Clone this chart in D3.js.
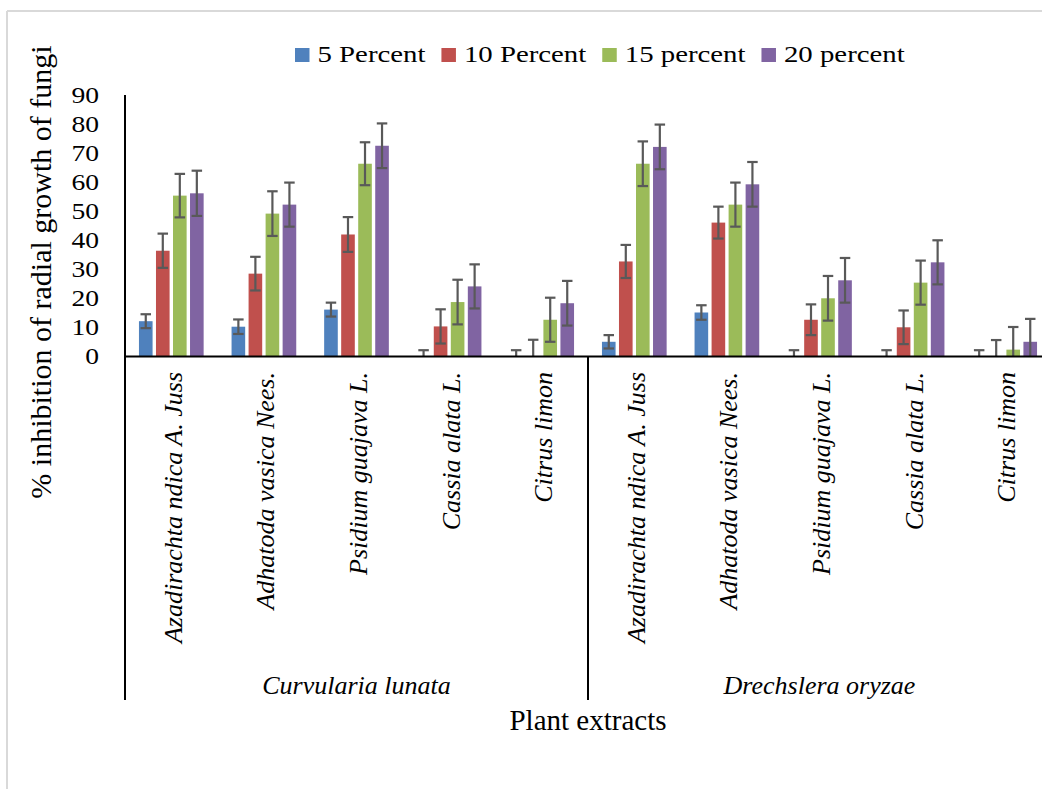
<!DOCTYPE html>
<html>
<head>
<meta charset="utf-8">
<script src="https://cdn.jsdelivr.net/npm/d3@7"></script>
<style>
  body { margin: 0; background: #fff; }
  svg { display: block; }
  svg text { font-family: "Liberation Serif", "Times New Roman", serif; }
</style>
</head>
<body>
<svg id="chart" width="1042" height="789"></svg>
<script>
// Pathogen groups and plant extracts along the x axis
const fungi = ["Curvularia lunata", "Drechslera oryzae"];
const plants = ["Azadirachta ndica A. Juss", "Adhatoda vasica Nees.", "Psidium guajava L.", "Cassia alata L.", "Citrus limon"];

// Extract concentrations (series)
const seriesNames = ["5 Percent", "10 Percent", "15 percent", "20 percent"];

// % inhibition, 10 values per series: C. lunata (5 plants) then D. oryzae (5 plants)
const pct5  = [12.0, 10.1, 16.0, 0,    0,    4.9,  15.0, 0,    0,    0];
const pct10 = [36.3, 28.4, 41.9, 10.2, 0,    32.6, 46.0, 12.5, 9.9,  0];
const pct15 = [55.3, 49.1, 66.3, 18.6, 12.5, 66.3, 52.2, 19.9, 25.3, 2.2];
const pct20 = [56.1, 52.2, 72.5, 24.0, 18.2, 72.1, 59.2, 26.1, 32.3, 4.9];

// Error bar half-widths (same order)
const err5  = [2.4, 2.5, 2.4, 2.0, 2.0, 2.3, 2.5, 2.0, 2.0, 2.0];
const err10 = [5.9, 5.8, 6.0, 5.9, 5.6, 5.7, 5.5, 5.3, 5.8, 5.5];
const err15 = [7.5, 7.7, 7.4, 7.7, 7.6, 7.7, 7.6, 7.7, 7.6, 7.8];
const err20 = [7.8, 7.6, 7.7, 7.6, 7.7, 7.7, 7.7, 7.7, 7.6, 7.9];

const yTicks = [0, 10, 20, 30, 40, 50, 60, 70, 80, 90];

const values = [pct5, pct10, pct15, pct20];
const errors = [err5, err10, err15, err20];
const colors = ["#4F81BD", "#C0504D", "#9BBB59", "#8064A2"];
const serif = "'Liberation Serif', 'Times New Roman', serif";

const svg = d3.select("#chart");

// Plot geometry
const plotLeft = 125, plotRight = 1051, plotBase = 356, plotTop = 95, lineBottom = 700;

const y = d3.scaleLinear().domain([0, 90]).range([plotBase, plotTop]);
const keys = fungi.flatMap(f => plants.map(p => f + "|" + p));
const x0 = d3.scaleBand().domain(keys).range([plotLeft, plotRight]).padding(0);
const x1 = d3.scaleBand().domain(seriesNames).range([0, x0.bandwidth()])
  .paddingInner(0.2).paddingOuter(0.82);

// Outer frame (light grey)
svg.append("line").attr("x1", 7).attr("x2", 1042).attr("y1", 11).attr("y2", 11)
  .attr("stroke", "#d9d9d9").attr("stroke-width", 2);
svg.append("line").attr("x1", 7).attr("x2", 7).attr("y1", 11).attr("y2", 789)
  .attr("stroke", "#d9d9d9").attr("stroke-width", 2);

// Legend
const legend = svg.append("g");
let lx = 295;
seriesNames.forEach((name, i) => {
  legend.append("rect").attr("x", lx).attr("y", 48).attr("width", 14.5).attr("height", 14)
    .attr("fill", colors[i]);
  const t = legend.append("text")
    .attr("transform", `translate(${lx + 22.5},62.3) scale(1.2,1)`)
    .style("font-family", serif)
    .attr("font-size", 24).attr("fill", "#000").text(name);
  const w = t.node().getComputedTextLength() * 1.2;
  lx += 22.5 + w + 16;
});

// Rows of bar data
const rows = keys.map((k, i) => ({
  key: k,
  bars: seriesNames.map((s, j) => ({ s, j, v: values[j][i], e: errors[j][i] }))
}));

// Bars
const groups = svg.append("g").selectAll("g").data(rows).join("g")
  .attr("transform", d => `translate(${x0(d.key)},0)`);

groups.selectAll("rect").data(d => d.bars).join("rect")
  .attr("x", d => x1(d.s))
  .attr("y", d => y(d.v))
  .attr("width", x1.bandwidth())
  .attr("height", d => plotBase - y(d.v))
  .attr("fill", d => colors[d.j]);

// Error bars, clipped at the zero line
svg.append("clipPath").attr("id", "plotClip")
  .append("rect").attr("x", plotLeft).attr("y", 0).attr("width", plotRight - plotLeft).attr("height", plotBase);

const errG = svg.append("g").attr("clip-path", "url(#plotClip)");
const capW = 10.5;
rows.forEach(r => {
  r.bars.forEach(b => {
    const cx = x0(r.key) + x1(b.s) + x1.bandwidth() / 2;
    const yHi = y(b.v + b.e), yLo = y(b.v - b.e);
    const g = errG.append("g").attr("stroke", "#595959").attr("stroke-width", 2.2);
    g.append("line").attr("x1", cx).attr("x2", cx).attr("y1", yHi).attr("y2", yLo);
    g.append("line").attr("x1", cx - capW / 2).attr("x2", cx + capW / 2).attr("y1", yHi).attr("y2", yHi);
    g.append("line").attr("x1", cx - capW / 2).attr("x2", cx + capW / 2).attr("y1", yLo).attr("y2", yLo);
  });
});

// Y axis
const yAxis = svg.append("g").attr("transform", `translate(${plotLeft},0)`)
  .call(d3.axisLeft(y).tickValues(yTicks).tickSize(0).tickPadding(26));
yAxis.attr("font-family", null);
yAxis.select(".domain").remove();
yAxis.selectAll("text")
  .style("font-family", serif)
  .attr("font-size", 24).attr("fill", "#000")
  .attr("x", -26 / 1.15).attr("transform", "scale(1.15,1)");

// X axis line
const xAxis = svg.append("g").attr("transform", `translate(0,${plotBase})`)
  .call(d3.axisBottom(x0).tickSize(0).tickFormat(""));
xAxis.select(".domain").attr("stroke", "#000").attr("stroke-width", 2);
xAxis.selectAll(".tick").remove();

// Vertical axis line and group separators
svg.append("line").attr("x1", plotLeft).attr("x2", plotLeft).attr("y1", plotTop).attr("y2", lineBottom)
  .attr("stroke", "#000").attr("stroke-width", 2);
fungi.forEach(f => {
  const xs = x0(f + "|" + plants[plants.length - 1]) + x0.bandwidth();
  svg.append("line").attr("x1", xs).attr("x2", xs).attr("y1", plotBase).attr("y2", lineBottom)
    .attr("stroke", "#000").attr("stroke-width", 2);
});

// Plant extract labels (rotated)
svg.append("g").selectAll("text").data(keys).join("text")
  .attr("transform", d => `translate(${x0(d) + x0.bandwidth() / 2},372) rotate(-90)`)
  .attr("dy", "0.4em")
  .attr("text-anchor", "end")
  .style("font-family", serif)
  .attr("font-style", "italic").attr("font-size", 26).attr("fill", "#000")
  .text(d => d.split("|")[1]);

// Fungus group labels
svg.append("g").selectAll("text").data(fungi).join("text")
  .attr("x", f => (x0(f + "|" + plants[0]) + x0(f + "|" + plants[plants.length - 1]) + x0.bandwidth()) / 2)
  .attr("y", 694)
  .attr("text-anchor", "middle")
  .style("font-family", serif)
  .attr("font-style", "italic").attr("font-size", 26).attr("fill", "#000")
  .text(f => f);

// Axis titles
svg.append("text").attr("x", (plotLeft + plotRight) / 2).attr("y", 730)
  .attr("text-anchor", "middle").attr("font-size", 29).attr("fill", "#000")
  .style("font-family", serif)
  .text("Plant extracts");

svg.append("text").attr("transform", "translate(41,272) rotate(-90)")
  .attr("dy", "0.33em").attr("text-anchor", "middle")
  .style("font-family", serif)
  .attr("font-size", 30).attr("fill", "#000")
  .text("% inhibition of radial growth of fungi");
</script>
</body>
</html>
